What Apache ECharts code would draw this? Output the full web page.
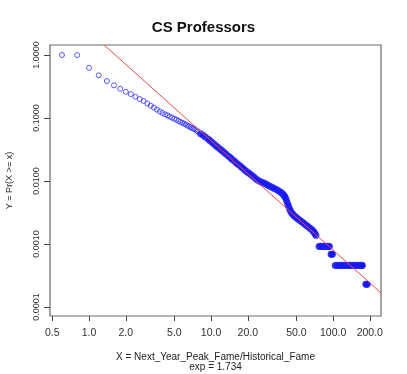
<!DOCTYPE html>
<html>
<head>
<meta charset="utf-8">
<script src="https://cdn.jsdelivr.net/npm/echarts@6/dist/echarts.min.js"></script>
<style>
  html, body { margin: 0; padding: 0; background: #fff; }
  #chart { width: 407px; height: 374px; }
</style>
</head>
<body>
<div id="chart"></div>
<script>
// CCDF of Next_Year_Peak_Fame / Historical_Fame
const headX = [0.6, 0.8, 1.0, 1.2, 1.4, 1.6, 1.8, 2.0, 2.2, 2.4, 2.6, 2.8, 3.0, 3.2, 3.4, 3.6, 3.8, 4.0, 4.2, 4.4, 4.6, 4.8, 5.0, 5.2, 5.4, 5.6, 5.8, 6.0, 6.2, 6.4, 6.6, 6.8, 7.0, 7.2, 7.4, 7.6, 7.8];
const headY = [1.0, 0.995, 0.628, 0.476, 0.386, 0.330, 0.291, 0.261, 0.240, 0.217, 0.200, 0.186, 0.170, 0.157, 0.146, 0.136, 0.127, 0.120, 0.114, 0.110, 0.105, 0.101, 0.097, 0.094, 0.090, 0.087, 0.084, 0.0815, 0.079, 0.076, 0.0737, 0.071, 0.069, 0.0677, 0.066, 0.063, 0.061];

const bodyX = [8.2, 8.6, 9.0, 9.5, 9.8, 10.2, 10.6, 11.0, 11.4, 11.9, 12.3, 12.8, 13.3, 13.9, 14.4, 14.9, 15.5, 16.1, 16.7, 17.4, 18.0, 18.7, 19.4, 20.2, 21.0, 21.8, 22.6, 23.5, 24.4, 25.4, 26.4, 27.4, 28.4, 29.5, 30.6, 31.8, 33.0, 34.3, 35.6, 37.0, 38.1, 39.2, 40.0, 40.7, 41.5, 42.3, 43.1, 43.9, 44.7, 45.6, 46.7, 47.8, 49.0, 50.1, 51.5, 53.0, 54.5, 56.1, 57.7, 59.4, 61.1, 62.8, 64.6, 66.5, 68.1, 69.7, 71.0, 72.4];
const bodyY = [0.0565, 0.0532, 0.0496, 0.0462, 0.0435, 0.0409, 0.0384, 0.0361, 0.0340, 0.0320, 0.0302, 0.0284, 0.0266, 0.0248, 0.0234, 0.0220, 0.0207, 0.0194, 0.0183, 0.0172, 0.0162, 0.0152, 0.0143, 0.0135, 0.0128, 0.0121, 0.0114, 0.0107, 0.0102, 0.00975, 0.0095, 0.00923, 0.00885, 0.00848, 0.00818, 0.00788, 0.0076, 0.00733, 0.00702, 0.00671, 0.00638, 0.00606, 0.00575, 0.00543, 0.0049, 0.00444, 0.00402, 0.00363, 0.00336, 0.00313, 0.00296, 0.00281, 0.0027, 0.00261, 0.0025, 0.0024, 0.0023, 0.00221, 0.00211, 0.00202, 0.00194, 0.00186, 0.00178, 0.00171, 0.00163, 0.00155, 0.00146, 0.00137];

// flat tail: levels 4/N .. 1/N and the x range each one covers
const tailLevels = [0.000916, 0.000687, 0.000458, 0.000229];
const tailRuns = [
  [76.7, 78.2, 79.8, 81.4, 83.0, 84.7, 86.4, 88.1, 89.9, 91.7, 93.5],
  [96.2, 97.6, 98.8],
  [104, 107, 110, 113, 116, 119, 122, 125, 128, 131, 134, 137, 140, 144, 148, 152, 156, 160, 164, 168, 172, 174],
  [185.5, 188, 190.5]
];

// fitted power law (exp = 1.734), two ends
const fitX = [1.0, 250];
const fitY = [2.36, 0.000164];

const xTicks = [0.5, 1, 2, 5, 10, 20, 50, 100, 200];
const yTicks = [0.0001, 0.001, 0.01, 0.1, 1];

const headPoints = headX.map((x, i) => [x, headY[i]]);
const densePoints = bodyX.map((x, i) => [x, bodyY[i]]);
tailRuns.forEach((run, k) => run.forEach(x => densePoints.push([x, tailLevels[k]])));
const fitLine = fitX.map((x, i) => [x, fitY[i]]);

const font = "'Liberation Sans', Arial, sans-serif";
const chart = echarts.init(document.getElementById("chart"));
chart.setOption({
  animation: false,
  title: {
    text: "CS Professors",
    left: "center",
    top: 15,
    textStyle: { fontSize: 15, fontWeight: "bold", color: "#111", fontFamily: font }
  },
  grid: {
    left: 50, right: 26, top: 45, bottom: 58,
    show: true, borderColor: "#6a6a6a", borderWidth: 1.2,
    outerBoundsMode: "none"
  },
  xAxis: {
    type: "log",
    logBase: 10,
    min: 0.4786,
    max: 247,
    axisLine: { show: false },
    axisTick: { show: true, length: 5, customValues: xTicks, lineStyle: { color: "#444" } },
    axisLabel: {
      customValues: xTicks,
      formatter: v => Number(v).toFixed(1),
      fontSize: 10.5, color: "#333", margin: 12, fontFamily: font
    },
    splitLine: { show: false },
    name: "X = Next_Year_Peak_Fame/Historical_Fame\nexp = 1.734",
    nameLocation: "middle",
    nameGap: 36,
    nameTextStyle: { fontSize: 10, lineHeight: 10, color: "#222", fontFamily: font, verticalAlign: "top" }
  },
  yAxis: {
    type: "log",
    logBase: 10,
    min: 0.0000720,
    max: 1.442,
    axisLine: { show: false },
    axisTick: { show: true, length: 6, customValues: yTicks, lineStyle: { color: "#444" } },
    axisLabel: {
      customValues: yTicks,
      formatter: v => Number(v).toFixed(4),
      rotate: 90,
      fontSize: 9, color: "#333", margin: 9, fontFamily: font
    },
    splitLine: { show: false },
    name: "Y = Pr(X >= x)",
    nameLocation: "middle",
    nameRotate: 90,
    nameGap: 36,
    nameTextStyle: { fontSize: 9, color: "#222", fontFamily: font }
  },
  series: [
    {
      type: "scatter",
      data: headPoints,
      symbol: "circle",
      symbolSize: 5,
      itemStyle: { color: "rgba(0,0,0,0)", borderColor: "#3333ff", borderWidth: 1 },
      z: 2
    },
    {
      // past x≈8 the rings overlap into a solid band
      type: "scatter",
      data: densePoints,
      symbol: "circle",
      symbolSize: 6.5,
      itemStyle: { color: "#1515f0", borderColor: "#2a2aff", borderWidth: 0.5 },
      z: 2
    },
    {
      type: "line",
      data: fitLine,
      showSymbol: false,
      clip: true,
      lineStyle: { color: "#ee4a4a", width: 1 },
      z: 3
    }
  ]
});
</script>
</body>
</html>
